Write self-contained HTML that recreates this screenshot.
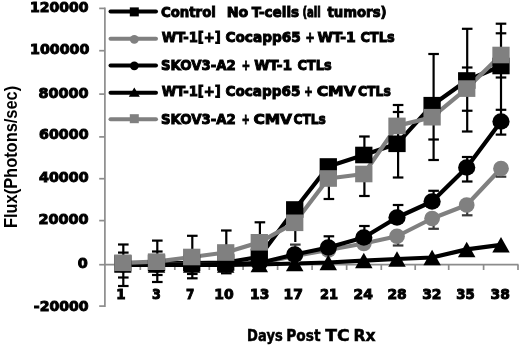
<!DOCTYPE html><html><head><meta charset="utf-8"><style>html,body{margin:0;padding:0;background:#fff;}svg{display:block;filter:blur(0.45px)}</style></head><body>
<svg width="520" height="347" viewBox="0 0 520 347">
<rect width="520" height="347" fill="#fff"/>
<g stroke="#8c8c8c" stroke-width="1.7" fill="none">
<line x1="104.9" y1="7.550000000000001" x2="104.9" y2="306.95000000000005"/>
<line x1="99.2" y1="8.4" x2="104.9" y2="8.4"/>
<line x1="99.2" y1="50.7" x2="104.9" y2="50.7"/>
<line x1="99.2" y1="94.1" x2="104.9" y2="94.1"/>
<line x1="99.2" y1="136.9" x2="104.9" y2="136.9"/>
<line x1="99.2" y1="178.7" x2="104.9" y2="178.7"/>
<line x1="99.2" y1="220.6" x2="104.9" y2="220.6"/>
<line x1="99.2" y1="264.7" x2="104.9" y2="264.7"/>
<line x1="99.2" y1="306.1" x2="104.9" y2="306.1"/>
<line x1="104.9" y1="264.7" x2="518.5" y2="264.7"/>
<line x1="140.30" y1="264.7" x2="140.30" y2="270"/>
<line x1="174.80" y1="264.7" x2="174.80" y2="270"/>
<line x1="209.30" y1="264.7" x2="209.30" y2="270"/>
<line x1="243.10" y1="264.7" x2="243.10" y2="270"/>
<line x1="277.60" y1="264.7" x2="277.60" y2="270"/>
<line x1="312.10" y1="264.7" x2="312.10" y2="270"/>
<line x1="346.65" y1="264.7" x2="346.65" y2="270"/>
<line x1="381.30" y1="264.7" x2="381.30" y2="270"/>
<line x1="415.20" y1="264.7" x2="415.20" y2="270"/>
<line x1="448.70" y1="264.7" x2="448.70" y2="270"/>
<line x1="483.60" y1="264.7" x2="483.60" y2="270"/>
<line x1="518.00" y1="264.7" x2="518.00" y2="270"/>
</g>
<g font-family="DejaVu Sans, Liberation Sans, sans-serif" font-weight="bold" font-size="14.2" fill="#000" stroke="#000" stroke-width="1.0">
<text x="30.00" y="11.80" textLength="58.50" lengthAdjust="spacingAndGlyphs">120000</text>
<text x="30.00" y="53.90" textLength="59.40" lengthAdjust="spacingAndGlyphs">100000</text>
<text x="38.40" y="97.80" textLength="50.18" lengthAdjust="spacingAndGlyphs">80000</text>
<text x="39.05" y="139.40" textLength="49.53" lengthAdjust="spacingAndGlyphs">60000</text>
<text x="39.05" y="181.75" textLength="49.53" lengthAdjust="spacingAndGlyphs">40000</text>
<text x="38.40" y="224.10" textLength="50.18" lengthAdjust="spacingAndGlyphs">20000</text>
<text x="77.70" y="267.65" textLength="10.01" lengthAdjust="spacingAndGlyphs">0</text>
<text x="33.80" y="310.75" textLength="54.79" lengthAdjust="spacingAndGlyphs">-20000</text>
</g>
<g font-family="DejaVu Sans, Liberation Sans, sans-serif" font-weight="bold" font-size="14.2" fill="#000" stroke="#000" stroke-width="1.0">
<text x="116.30" y="299.4" textLength="9.31" lengthAdjust="spacingAndGlyphs">1</text>
<text x="152.00" y="299.4" textLength="8.81" lengthAdjust="spacingAndGlyphs">3</text>
<text x="186.00" y="299.4" textLength="8.31" lengthAdjust="spacingAndGlyphs">7</text>
<text x="214.30" y="299.4" textLength="19.42" lengthAdjust="spacingAndGlyphs">10</text>
<text x="250.10" y="299.4" textLength="19.22" lengthAdjust="spacingAndGlyphs">13</text>
<text x="283.60" y="299.4" textLength="19.32" lengthAdjust="spacingAndGlyphs">17</text>
<text x="319.90" y="299.4" textLength="18.12" lengthAdjust="spacingAndGlyphs">21</text>
<text x="353.60" y="299.4" textLength="19.32" lengthAdjust="spacingAndGlyphs">24</text>
<text x="387.40" y="299.4" textLength="19.32" lengthAdjust="spacingAndGlyphs">28</text>
<text x="422.20" y="299.4" textLength="19.32" lengthAdjust="spacingAndGlyphs">32</text>
<text x="456.30" y="299.4" textLength="18.42" lengthAdjust="spacingAndGlyphs">35</text>
<text x="490.50" y="299.4" textLength="19.32" lengthAdjust="spacingAndGlyphs">38</text>
</g>
<g font-family="DejaVu Sans, Liberation Sans, sans-serif" font-weight="bold" font-size="15" fill="#000" stroke="#000" stroke-width="0.5">
<text x="247.10" y="340.6" textLength="35.62" lengthAdjust="spacingAndGlyphs">Days</text>
<text x="286.20" y="340.6" textLength="34.28" lengthAdjust="spacingAndGlyphs">Post</text>
<text x="325.30" y="340.6" textLength="24.32" lengthAdjust="spacingAndGlyphs">TC</text>
<text x="353.60" y="340.6" textLength="22.10" lengthAdjust="spacingAndGlyphs">Rx</text>
</g>
<text transform="translate(17.0,313.80) rotate(-90)" x="85.80" y="0" font-family="Liberation Sans, sans-serif" font-weight="bold" font-size="18" textLength="142.16" lengthAdjust="spacingAndGlyphs">Flux(Photons/sec)</text>
<g fill="none" stroke-width="4.2" stroke-linejoin="round" stroke-linecap="round">
<polyline points="122.80,263.50 156.50,263.00 191.70,263.00 225.70,262.50 259.30,257.00 294.70,209.50 328.30,166.50 363.80,155.00 397.00,143.80 432.10,105.20 466.70,80.50 501.00,66.00" stroke="#000"/>
<polyline points="122.80,264.50 156.50,264.50 191.70,264.50 225.70,264.50 259.30,263.50 294.70,256.00 328.30,250.00 363.80,243.50 397.00,236.25 432.10,218.50 466.70,205.00 501.00,168.50" stroke="#808080"/>
<polyline points="122.80,264.50 156.50,264.50 191.70,264.50 225.70,264.00 259.30,263.00 294.70,254.50 328.30,247.50 363.80,237.50 397.00,217.50 432.10,201.50 466.70,167.50 501.00,121.50" stroke="#000"/>
<polyline points="122.80,265.00 156.50,265.00 191.70,265.00 225.70,265.00 259.30,264.50 294.70,263.50 328.30,262.50 363.80,260.60 397.00,259.00 432.10,257.50 466.70,249.40 501.00,244.80" stroke="#000"/>
<polyline points="122.80,262.80 156.50,261.70 191.70,257.00 225.70,252.50 259.30,242.30 294.70,222.80 328.30,178.50 363.80,174.00 397.00,125.90 432.10,117.20 466.70,88.60 501.00,55.00" stroke="#808080"/>
</g>
<g stroke="#000" stroke-width="2.2" fill="none">
<line x1="123.30" y1="244.5" x2="123.30" y2="286"/>
<line x1="118.00" y1="244.5" x2="128.60" y2="244.5"/>
<line x1="118.00" y1="252.6" x2="128.60" y2="252.6"/>
<line x1="118.00" y1="277.5" x2="128.60" y2="277.5"/>
<line x1="118.00" y1="286" x2="128.60" y2="286"/>
<line x1="157.30" y1="240.6" x2="157.30" y2="282"/>
<line x1="152.00" y1="240.6" x2="162.60" y2="240.6"/>
<line x1="152.00" y1="251.5" x2="162.60" y2="251.5"/>
<line x1="152.00" y1="275" x2="162.60" y2="275"/>
<line x1="152.00" y1="282" x2="162.60" y2="282"/>
<line x1="192.30" y1="235.8" x2="192.30" y2="278.5"/>
<line x1="187.00" y1="235.8" x2="197.60" y2="235.8"/>
<line x1="187.00" y1="274.0" x2="197.60" y2="274.0"/>
<line x1="187.00" y1="278.3" x2="197.60" y2="278.3"/>
<line x1="226.30" y1="230.5" x2="226.30" y2="273.5"/>
<line x1="221.00" y1="230.5" x2="231.60" y2="230.5"/>
<line x1="221.00" y1="273.3" x2="231.60" y2="273.3"/>
<line x1="259.90" y1="222.3" x2="259.90" y2="270"/>
<line x1="254.60" y1="222.3" x2="265.20" y2="222.3"/>
<line x1="295.30" y1="222" x2="295.30" y2="242"/>
<line x1="328.90" y1="176.5" x2="328.90" y2="199"/>
<line x1="323.60" y1="199" x2="334.20" y2="199"/>
<line x1="328.90" y1="236.3" x2="328.90" y2="247"/>
<line x1="323.60" y1="236.3" x2="334.20" y2="236.3"/>
<line x1="364.40" y1="136.5" x2="364.40" y2="154"/>
<line x1="359.10" y1="136.5" x2="369.70" y2="136.5"/>
<line x1="364.40" y1="174" x2="364.40" y2="196"/>
<line x1="359.10" y1="196" x2="369.70" y2="196"/>
<line x1="364.40" y1="226" x2="364.40" y2="237.5"/>
<line x1="359.10" y1="226" x2="369.70" y2="226"/>
<line x1="398.10" y1="105" x2="398.10" y2="177.5"/>
<line x1="392.80" y1="105" x2="403.40" y2="105"/>
<line x1="392.80" y1="112" x2="403.40" y2="112"/>
<line x1="392.80" y1="177.5" x2="403.40" y2="177.5"/>
<line x1="398.10" y1="205" x2="398.10" y2="217.5"/>
<line x1="392.80" y1="205" x2="403.40" y2="205"/>
<line x1="433.60" y1="54" x2="433.60" y2="160"/>
<line x1="428.30" y1="54" x2="438.90" y2="54"/>
<line x1="428.30" y1="139.5" x2="438.90" y2="139.5"/>
<line x1="428.30" y1="160" x2="438.90" y2="160"/>
<line x1="433.60" y1="190.8" x2="433.60" y2="201.5"/>
<line x1="428.30" y1="190.8" x2="438.90" y2="190.8"/>
<line x1="467.20" y1="28.8" x2="467.20" y2="131.5"/>
<line x1="461.90" y1="28.8" x2="472.50" y2="28.8"/>
<line x1="461.90" y1="67.5" x2="472.50" y2="67.5"/>
<line x1="461.90" y1="110.75" x2="472.50" y2="110.75"/>
<line x1="461.90" y1="131.5" x2="472.50" y2="131.5"/>
<line x1="467.20" y1="157" x2="467.20" y2="181.5"/>
<line x1="461.90" y1="157" x2="472.50" y2="157"/>
<line x1="461.90" y1="181.5" x2="472.50" y2="181.5"/>
<line x1="501.00" y1="23.7" x2="501.00" y2="134.6"/>
<line x1="495.70" y1="23.7" x2="506.30" y2="23.7"/>
<line x1="495.70" y1="33.3" x2="506.30" y2="33.3"/>
<line x1="495.70" y1="77.5" x2="506.30" y2="77.5"/>
<line x1="495.70" y1="109.8" x2="506.30" y2="109.8"/>
<line x1="495.70" y1="134.6" x2="506.30" y2="134.6"/>
</g>
<g stroke="#3a3a3a" stroke-width="2.2" fill="none">
<line x1="290.00" y1="244.6" x2="300.60" y2="244.6"/>
<line x1="295.30" y1="256" x2="295.30" y2="244.6"/>
<line x1="392.80" y1="245.5" x2="403.40" y2="245.5"/>
<line x1="398.10" y1="236.25" x2="398.10" y2="245.5"/>
<line x1="428.30" y1="228.8" x2="438.90" y2="228.8"/>
<line x1="433.60" y1="218.5" x2="433.60" y2="228.8"/>
<line x1="461.90" y1="215.3" x2="472.50" y2="215.3"/>
<line x1="467.20" y1="205" x2="467.20" y2="215.3"/>
<line x1="495.70" y1="176.7" x2="506.30" y2="176.7"/>
<line x1="501.00" y1="168.5" x2="501.00" y2="176.7"/>
</g>
<rect x="114.15" y="255.20" width="17.3" height="16.6" fill="#000"/>
<rect x="147.85" y="254.70" width="17.3" height="16.6" fill="#000"/>
<rect x="183.05" y="254.70" width="17.3" height="16.6" fill="#000"/>
<rect x="217.05" y="254.20" width="17.3" height="16.6" fill="#000"/>
<rect x="250.65" y="248.70" width="17.3" height="16.6" fill="#000"/>
<rect x="286.05" y="201.20" width="17.3" height="16.6" fill="#000"/>
<rect x="319.65" y="158.20" width="17.3" height="16.6" fill="#000"/>
<rect x="355.15" y="146.70" width="17.3" height="16.6" fill="#000"/>
<rect x="388.35" y="135.50" width="17.3" height="16.6" fill="#000"/>
<rect x="423.45" y="96.90" width="17.3" height="16.6" fill="#000"/>
<rect x="458.05" y="72.20" width="17.3" height="16.6" fill="#000"/>
<rect x="492.35" y="57.70" width="17.3" height="16.6" fill="#000"/>
<ellipse cx="122.80" cy="264.50" rx="7.9" ry="7.7" fill="#808080"/>
<ellipse cx="156.50" cy="264.50" rx="7.9" ry="7.7" fill="#808080"/>
<ellipse cx="191.70" cy="264.50" rx="7.9" ry="7.7" fill="#808080"/>
<ellipse cx="225.70" cy="264.50" rx="7.9" ry="7.7" fill="#808080"/>
<ellipse cx="259.30" cy="263.50" rx="7.9" ry="7.7" fill="#808080"/>
<ellipse cx="294.70" cy="256.00" rx="7.9" ry="7.7" fill="#808080"/>
<ellipse cx="328.30" cy="250.00" rx="7.9" ry="7.7" fill="#808080"/>
<ellipse cx="363.80" cy="243.50" rx="7.9" ry="7.7" fill="#808080"/>
<ellipse cx="397.00" cy="236.25" rx="7.9" ry="7.7" fill="#808080"/>
<ellipse cx="432.10" cy="218.50" rx="7.9" ry="7.7" fill="#808080"/>
<ellipse cx="466.70" cy="205.00" rx="7.9" ry="7.7" fill="#808080"/>
<ellipse cx="501.00" cy="168.50" rx="7.9" ry="7.7" fill="#808080"/>
<ellipse cx="122.80" cy="264.50" rx="8.6" ry="8.3" fill="#000"/>
<ellipse cx="156.50" cy="264.50" rx="8.6" ry="8.3" fill="#000"/>
<ellipse cx="191.70" cy="264.50" rx="8.6" ry="8.3" fill="#000"/>
<ellipse cx="225.70" cy="264.00" rx="8.6" ry="8.3" fill="#000"/>
<ellipse cx="259.30" cy="263.00" rx="8.6" ry="8.3" fill="#000"/>
<ellipse cx="294.70" cy="254.50" rx="8.6" ry="8.3" fill="#000"/>
<ellipse cx="328.30" cy="247.50" rx="8.6" ry="8.3" fill="#000"/>
<ellipse cx="363.80" cy="237.50" rx="8.6" ry="8.3" fill="#000"/>
<ellipse cx="397.00" cy="217.50" rx="8.6" ry="8.3" fill="#000"/>
<ellipse cx="432.10" cy="201.50" rx="8.6" ry="8.3" fill="#000"/>
<ellipse cx="466.70" cy="167.50" rx="8.6" ry="8.3" fill="#000"/>
<ellipse cx="501.00" cy="121.50" rx="8.6" ry="8.3" fill="#000"/>
<polygon points="114.05,272.75 131.55,272.75 122.80,257.25" fill="#000"/>
<polygon points="147.75,272.75 165.25,272.75 156.50,257.25" fill="#000"/>
<polygon points="182.95,272.75 200.45,272.75 191.70,257.25" fill="#000"/>
<polygon points="216.95,272.75 234.45,272.75 225.70,257.25" fill="#000"/>
<polygon points="250.55,272.25 268.05,272.25 259.30,256.75" fill="#000"/>
<polygon points="285.95,271.25 303.45,271.25 294.70,255.75" fill="#000"/>
<polygon points="319.55,270.25 337.05,270.25 328.30,254.75" fill="#000"/>
<polygon points="355.05,268.35 372.55,268.35 363.80,252.85" fill="#000"/>
<polygon points="388.25,266.75 405.75,266.75 397.00,251.25" fill="#000"/>
<polygon points="423.35,265.25 440.85,265.25 432.10,249.75" fill="#000"/>
<polygon points="457.95,257.15 475.45,257.15 466.70,241.65" fill="#000"/>
<polygon points="492.25,252.55 509.75,252.55 501.00,237.05" fill="#000"/>
<rect x="114.15" y="254.50" width="17.3" height="16.6" fill="#808080"/>
<rect x="147.85" y="253.40" width="17.3" height="16.6" fill="#808080"/>
<rect x="183.05" y="248.70" width="17.3" height="16.6" fill="#808080"/>
<rect x="217.05" y="244.20" width="17.3" height="16.6" fill="#808080"/>
<rect x="250.65" y="234.00" width="17.3" height="16.6" fill="#808080"/>
<rect x="286.05" y="214.50" width="17.3" height="16.6" fill="#808080"/>
<rect x="319.65" y="170.20" width="17.3" height="16.6" fill="#808080"/>
<rect x="355.15" y="165.70" width="17.3" height="16.6" fill="#808080"/>
<rect x="388.35" y="117.60" width="17.3" height="16.6" fill="#808080"/>
<rect x="423.45" y="108.90" width="17.3" height="16.6" fill="#808080"/>
<rect x="458.05" y="80.30" width="17.3" height="16.6" fill="#808080"/>
<rect x="492.35" y="46.70" width="17.3" height="16.6" fill="#808080"/>
<g font-family="DejaVu Sans, Liberation Sans, sans-serif" font-weight="bold" font-size="14.8" fill="#000" stroke="#000" stroke-width="1.0" lengthAdjust="spacingAndGlyphs">
<line x1="110.5" y1="11.6" x2="156" y2="11.6" stroke="#000" stroke-width="4" stroke-linecap="round"/>
<rect x="129.8" y="7.3999999999999995" width="9" height="9" fill="#000" stroke="none"/>
<text x="160.90" y="17.05" textLength="54.94" lengthAdjust="spacingAndGlyphs">Control</text>
<text x="226.65" y="17.05" textLength="21.69" lengthAdjust="spacingAndGlyphs">No</text>
<text x="251.65" y="17.05" textLength="47.48" lengthAdjust="spacingAndGlyphs">T-cells</text>
<text x="302.40" y="17.05" textLength="18.42" lengthAdjust="spacingAndGlyphs">(all</text>
<text x="327.40" y="17.05" textLength="59.19" lengthAdjust="spacingAndGlyphs">tumors)</text>
<line x1="110.5" y1="38.8" x2="156" y2="38.8" stroke="#808080" stroke-width="4" stroke-linecap="round"/>
<ellipse cx="134.3" cy="39.4" rx="4.4" ry="4.4" fill="#808080" stroke="none"/>
<text x="161.65" y="42.45" textLength="59.21" lengthAdjust="spacingAndGlyphs">WT-1[+]</text>
<text x="225.40" y="42.45" textLength="75.48" lengthAdjust="spacingAndGlyphs">Cocapp65</text>
<text x="305.40" y="42.45" textLength="9.18" lengthAdjust="spacingAndGlyphs">+</text>
<text x="317.40" y="42.45" textLength="38.44" lengthAdjust="spacingAndGlyphs">WT-1</text>
<text x="360.40" y="42.45" textLength="34.18" lengthAdjust="spacingAndGlyphs">CTLs</text>
<line x1="110.5" y1="65.5" x2="156" y2="65.5" stroke="#000" stroke-width="4" stroke-linecap="round"/>
<ellipse cx="134.3" cy="65.8" rx="4.4" ry="4.4" fill="#000" stroke="none"/>
<text x="160.90" y="69.50" textLength="74.92" lengthAdjust="spacingAndGlyphs">SKOV3-A2</text>
<text x="241.65" y="69.50" textLength="8.43" lengthAdjust="spacingAndGlyphs">+</text>
<text x="254.15" y="69.50" textLength="37.94" lengthAdjust="spacingAndGlyphs">WT-1</text>
<text x="297.40" y="69.50" textLength="34.18" lengthAdjust="spacingAndGlyphs">CTLs</text>
<line x1="110.5" y1="92.8" x2="156" y2="92.8" stroke="#000" stroke-width="4" stroke-linecap="round"/>
<polygon points="128.8,96.8 139.8,96.8 134.3,87.6" fill="#000" stroke="none"/>
<text x="161.65" y="96.30" textLength="59.21" lengthAdjust="spacingAndGlyphs">WT-1[+]</text>
<text x="225.40" y="96.30" textLength="75.23" lengthAdjust="spacingAndGlyphs">Cocapp65</text>
<text x="304.15" y="96.30" textLength="8.43" lengthAdjust="spacingAndGlyphs">+</text>
<text x="316.65" y="96.30" textLength="39.17" lengthAdjust="spacingAndGlyphs">CMV</text>
<text x="357.90" y="96.30" textLength="32.93" lengthAdjust="spacingAndGlyphs">CTLs</text>
<line x1="110.5" y1="119.2" x2="156" y2="119.2" stroke="#808080" stroke-width="4" stroke-linecap="round"/>
<rect x="129.8" y="114.2" width="9" height="9" fill="#808080" stroke="none"/>
<text x="160.90" y="123.80" textLength="74.92" lengthAdjust="spacingAndGlyphs">SKOV3-A2</text>
<text x="241.65" y="123.80" textLength="7.93" lengthAdjust="spacingAndGlyphs">+</text>
<text x="253.40" y="123.80" textLength="38.67" lengthAdjust="spacingAndGlyphs">CMV</text>
<text x="293.40" y="123.80" textLength="32.43" lengthAdjust="spacingAndGlyphs">CTLs</text>
</g>
</svg></body></html>
